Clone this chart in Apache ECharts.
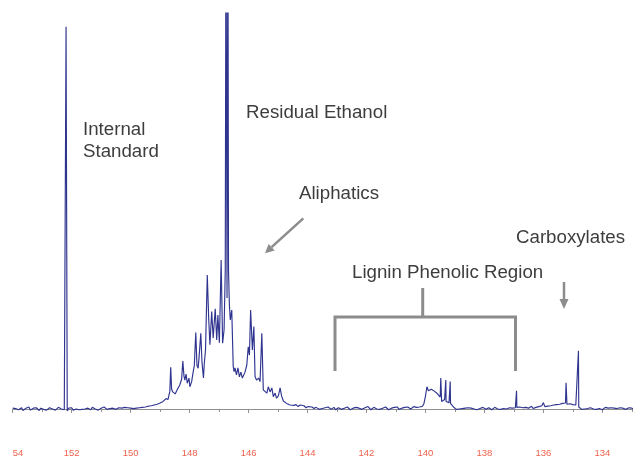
<!DOCTYPE html>
<html><head><meta charset="utf-8">
<script src="https://cdn.jsdelivr.net/npm/echarts@6/dist/echarts.min.js"></script>
<style>html,body{margin:0;padding:0;background:#fff}#c{width:633px;height:458px}</style>
</head><body><div id="c"></div>
<script>
// 31P NMR spectrum, chemical shift (ppm) vs intensity (a.u.)
const STEP = 0.05;
// grid 154.00 -> 149.05 ppm
const leftStart = 154.00;
const leftVals = [
 0.2,-0.3,0.1,0.4,-0.2,0.0,0.3,-0.4,0.1,0.2,
 -0.1,0.5,-0.3,0.0,0.2,-0.2,0.3,0.1,-0.4,0.2,
 0.0,-0.1,0.4,-0.3,0.1,0.3,-0.2,0.0,0.2,-0.3,
 0.1,0.4,-0.1,0.0,0.3,-0.2,
 0.1,
 -0.5,0.2,-0.1,0.3,-0.3,0.1,0.0,0.4,-0.2,0.2,
 -0.1,0.3,0.0,-0.3,0.2,0.1,-0.2,0.4,-0.1,0.0,
 0.3,-0.3,0.1,0.2,-0.2,0.5,0.0,-0.1,0.3,0.1,
 -0.2,0.2,0.4,-0.1,0.1,0.3,0.0,0.2,-0.2,0.4,
 0.1,0.3,0.0,0.2,0.5,0.1,0.3,0.2,0.4,
 0.3,0.6,0.4,0.7,0.5,0.9,0.7,1.0,0.8,1.2,1.0,1.4,1.2,1.6
];
// aliphatic + residual ethanol region, [ppm, intensity]
const aliphatic = [
 [149.00,1.5],[148.95,1.3],[148.90,1.9],[148.85,1.7],[148.80,2.6],[148.77,3.0],[148.73,2.4],
 [148.67,4.5],[148.64,10.5],[148.61,5.0],[148.57,4.3],[148.53,4.6],[148.49,3.8],[148.44,4.1],
 [148.39,5.3],[148.33,6.1],[148.27,7.5],[148.23,12.1],[148.19,8.3],[148.16,7.3],[148.12,8.8],
 [148.08,6.5],[148.02,7.8],[147.99,5.6],[147.93,6.9],[147.88,9.3],[147.84,10.9],[147.79,19.3],
 [147.75,11.0],[147.71,10.3],[147.68,12.9],[147.62,19.1],[147.58,11.9],[147.53,7.8],[147.50,11.6],
 [147.46,14.9],[147.40,33.8],[147.35,22.5],[147.31,16.2],[147.25,24.6],[147.20,17.9],[147.13,25.3],
 [147.08,17.4],[147.04,23.7],[146.99,16.7],[146.93,37.6],[146.88,16.6],[146.83,20.0],[146.79,35.0],
 [146.765,130.0],[146.73,28.0],[146.70,130.0],[146.68,35.0],[146.65,26.3],[146.62,22.5],[146.57,25.0],
 [146.52,10.7],[146.49,9.4],[146.46,10.4],[146.41,8.6],[146.36,10.4],[146.31,8.1],[146.26,9.3],
 [146.21,7.8],[146.18,7.3],[146.12,9.3],[146.06,11.1],[146.01,15.7],[145.97,13.6],[145.93,25.0],
 [145.87,14.9],[145.82,20.8],[145.78,8.2],[145.73,7.3],[145.66,7.8],[145.61,6.9],[145.55,19.1],
 [145.50,4.8],[145.44,5.3],[145.38,4.0],[145.33,5.6],[145.27,4.3],[145.21,5.3],[145.16,3.1],
 [145.10,4.0],[145.05,2.7],[144.99,3.3],[144.93,5.3],[144.88,3.3],[144.82,2.0],[144.76,1.8],
 [144.71,1.4],[144.65,1.8],[144.59,1.0],[144.53,1.4],[144.46,0.9],[144.39,1.1],[144.32,0.6],
 [144.25,1.0],[144.19,0.5],[144.12,0.8],[144.05,0.3],[143.98,0.6],[143.92,0.2],[143.85,0.5],
 [143.78,0.1],[143.71,0.4]
];
// grid 143.65 -> 132.95 ppm
const rightStart = 143.65;
const rightVals = [
 0.3,-0.1,0.4,0.1,-0.2,0.3,0.0,0.5,0.1,-0.1,
 0.2,0.4,-0.2,0.1,0.3,0.0,-0.1,0.4,0.2,0.0,
 0.5,0.1,-0.2,0.3,0.2,-0.1,0.4,0.0,0.2,0.5,
 -0.1,0.2,0.3,0.0,0.6,0.1,-0.2,0.2,0.4,0.1,
 0.0,0.3,-0.1,0.4,0.2,0.0,0.5,0.1,-0.2,0.3,
 0.2,0.0,0.4,0.1,0.5,-0.1,0.3,0.2,0.0,0.4,
 0.1,0.5,0.2,0.0,0.3,0.6,0.1,0.4,0.2,0.5,0.3,
 0.7,1.4,3.2,5.6,4.6,4.2,5.0,5.4,4.5,4.3,3.9,3.4,3.0,
 1.9,2.3,2.4,1.9,1.7,1.6,1.4,0.9,0.5,
 0.2,-0.1,0.3,0.0,0.4,0.1,-0.2,0.2,0.0,0.3,
 -0.1,0.2,0.4,0.0,0.1,-0.2,0.3,0.1,0.0,0.4,
 0.2,-0.1,0.1,0.3,0.0,-0.2,0.2,0.4,0.1,0.0,
 0.3,-0.1,0.2,0.1,0.4,0.0,-0.2,0.3,0.1,0.2,0.0,0.3,
 0.4,
 0.2,0.5,0.1,0.3,0.0,0.4,0.6,0.2,0.3,0.7,0.1,0.5,0.4,0.2,0.6,
 0.5,0.8,1.6,0.6,0.9,0.7,1.1,0.8,1.2,1.0,1.4,1.1,1.5,1.2,1.7,1.4,1.9,1.5,
 1.2,
 1.0,1.3,0.8,1.1,0.7,1.0,0.6,
 0.5,
 0.2,-0.1,0.3,0.0,0.4,0.1,-0.2,0.3,0.2,0.0,
 0.4,-0.1,0.2,0.1,0.3,-0.2,0.0,0.4,0.1,0.2,
 -0.1,0.3,0.0,0.2,0.5,0.1,-0.2,0.3,0.0,0.2,
 0.4,-0.1,0.1,0.3,0.0,0.2,-0.1
];
// sharp resonances [ppm, intensity]
const sharpLines = [[152.19,96.5],[139.48,7.8],[139.31,7.3],[139.16,6.9],[136.91,4.6],[135.23,6.6],[134.81,14.7]];
// axis tick labels
const tickValues = [154,152,150,148,146,144,142,140,138,136,134];
const tickLabels = ['54','152','150','148','146','144','142','140','138','136','134'];

const pts = [];
leftVals.forEach((v,i)=>pts.push([+(leftStart - i*STEP).toFixed(3), v]));
aliphatic.forEach(p=>pts.push(p));
rightVals.forEach((v,i)=>pts.push([+(rightStart - i*STEP).toFixed(3), v]));
sharpLines.forEach(p=>pts.push(p));
pts.sort((a,b)=>b[0]-a[0]);

const FONT = 'Liberation Sans, Arial, Helvetica, sans-serif';
const TXT = '#3d3d3d', GRAY = '#8c8c8c';
const txt = (x,y,s)=>({type:'text', x:x, y:y, style:{text:s, fill:TXT, font:'18.7px '+FONT, textVerticalAlign:'middle', verticalAlign:'middle'}});
const seg = (x1,y1,x2,y2,w)=>({type:'line', shape:{x1,y1,x2,y2}, style:{stroke:GRAY, lineWidth:w}});

const chart = echarts.init(document.getElementById('c'), null, {renderer:'canvas'});
chart.setOption({
  animation:false,
  backgroundColor:'#fff',
  grid:{left:12.7, top:13, width:648.6, height:430.4, containLabel:false, outerBoundsMode:'none'},
  xAxis:{
    type:'value', min:132, max:154, interval:2, inverse:true,
    axisLine:{lineStyle:{color:'#8f8f8f', width:1}},
    axisTick:{length:4, lineStyle:{color:'#8f8f8f'}},
    minorTick:{show:true, splitNumber:2, length:3, lineStyle:{color:'#8f8f8f'}},
    splitLine:{show:false}, minorSplitLine:{show:false},
    axisLabel:{color:'#f0624d', fontSize:9.5, fontFamily:FONT, margin:5, alignMaxLabel:'left',
      formatter:v=>{const k=tickValues.indexOf(Math.round(v)); return k>=0?tickLabels[k]:'';}}
  },
  yAxis:{type:'value', min:-8.7, max:100, show:false, splitLine:{show:false}},
  series:[{
    type:'line', data:pts, showSymbol:false, symbol:'none', clip:true,
    lineStyle:{color:'#2f348f', width:1.15}
  }],
  graphic:[
    txt(83,130,'Internal'), txt(83,152,'Standard'),
    txt(246,113,'Residual Ethanol'),
    txt(299,194,'Aliphatics'),
    txt(516,238,'Carboxylates'),
    txt(352,273,'Lignin Phenolic Region'),
    seg(303.3,218.3,271.6,247.2,2.5),
    {type:'polygon', shape:{points:[[265,253.3],[274.7,250.5],[268.6,243.9]]}, style:{fill:GRAY}},
    seg(564,282,564,300,2.5),
    {type:'polygon', shape:{points:[[564,309],[559.5,299],[568.5,299]]}, style:{fill:GRAY}},
    {type:'polyline', shape:{points:[[335,371],[335,317],[515.5,317],[515.5,371]]}, style:{stroke:GRAY, lineWidth:3, fill:null}},
    seg(422.7,288,422.7,317,3)
  ]
});
</script></body></html>
